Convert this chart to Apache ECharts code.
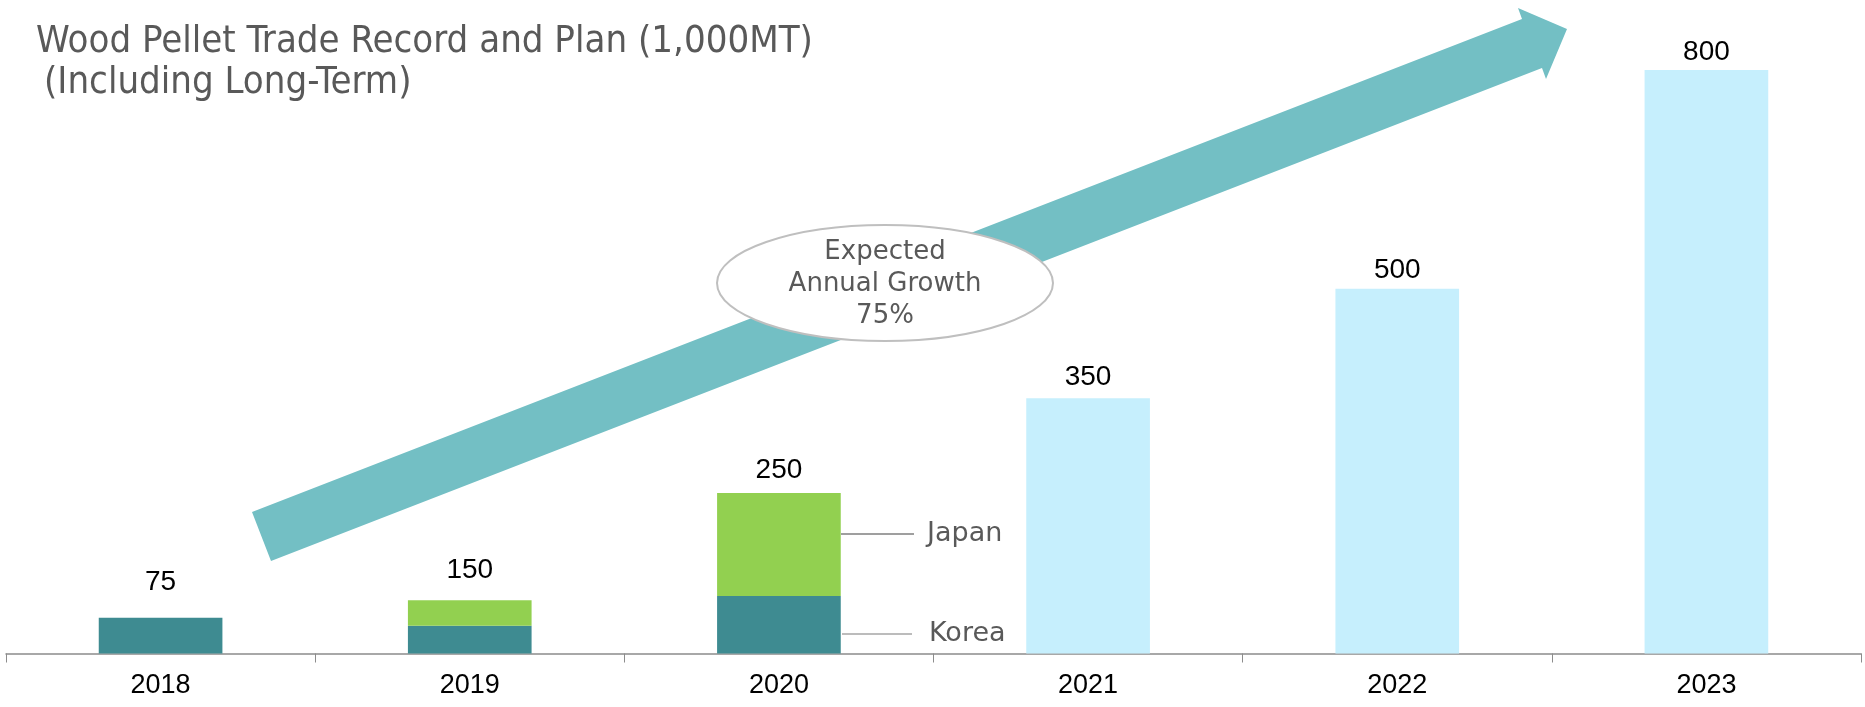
<!DOCTYPE html>
<html>
<head>
<meta charset="utf-8">
<script src="https://cdn.jsdelivr.net/npm/echarts@6/dist/echarts.min.js"></script>
<style>
  html, body { margin: 0; padding: 0; background: #fff; }
  #main { width: 1865px; height: 707px; }
</style>
</head>
<body>
<div id="main"></div>
<script>
// years on the x axis
const years = ['2018', '2019', '2020', '2021', '2022', '2023'];
// drawn bar heights (1,000MT) as they appear in the picture
const korea = [49, 38, 79, '-', '-', '-'];
const japan = ['-', 35, 141, '-', '-', '-'];
const plan = ['-', '-', '-', 350, 500, 800];
// printed totals above each bar
const totals = [75, 150, 250, 350, 500, 800];

const chart = echarts.init(document.getElementById('main'), null, { renderer: 'canvas' });

const grey = '#595959';
// the first labels sit a bit higher above their bars in the original
const labelGap = [21, 16, 9, 7, 5, 4];

const option = {
    backgroundColor: '#fff',
    animation: false,
    grid: { left: 6, right: 4, top: 70, bottom: 53.5 },
    xAxis: {
        type: 'category',
        data: years,
        axisLine: { show: true, lineStyle: { color: '#8c8c8c', width: 1.5 } },
        axisTick: { show: true, length: 9, lineStyle: { color: '#8c8c8c', width: 1 } },
        axisLabel: {
            margin: 19,
            color: '#000',
            fontSize: 27,
            fontFamily: 'Liberation Sans, Arial, sans-serif'
        }
    },
    yAxis: {
        type: 'value',
        min: 0,
        max: 800,
        show: false,
        splitLine: { show: false }
    },
    series: [
        {
            name: 'Korea', type: 'bar', stack: 'all', barWidth: '40%',
            data: korea, itemStyle: { color: '#3e8b91' }
        },
        {
            name: 'Japan', type: 'bar', stack: 'all',
            data: japan, itemStyle: { color: '#92d050' }
        },
        {
            name: 'Plan', type: 'bar', stack: 'all',
            data: plan, itemStyle: { color: '#c6effd' }
        },
        {
            // zero-height cap that carries the total label
            name: 'Total', type: 'bar', stack: 'all',
            data: totals.map((t, i) => ({ value: 0, label: { distance: labelGap[i] } })),
            itemStyle: { color: 'transparent' },
            label: {
                show: true,
                position: 'top',
                color: '#000',
                fontSize: 28,
                fontFamily: 'Liberation Sans, Arial, sans-serif',
                formatter: p => totals[p.dataIndex]
            }
        }
    ],
    graphic: [
        // title
        {
            type: 'text', left: 36, top: 23,
            style: {
                text: 'Wood Pellet Trade Record and Plan (1,000MT)',
                fill: grey, font: '38px "DejaVu Sans Condensed", "DejaVu Sans", sans-serif'
            }
        },
        {
            type: 'text', left: 44, top: 64,
            style: {
                text: '(Including Long-Term)',
                fill: grey, font: '38px "DejaVu Sans Condensed", "DejaVu Sans", sans-serif'
            }
        },
        // growth arrow
        {
            type: 'polygon', z: 1,
            shape: {
                points: [[252, 512], [1522, 19], [1518, 8], [1567, 29], [1546, 79], [1542, 68], [271, 561]]
            },
            style: { fill: '#73bfc4' }
        },
        // ellipse callout
        {
            type: 'ellipse', z: 2,
            shape: { cx: 885, cy: 283, rx: 168, ry: 58 },
            style: { fill: '#fff', stroke: '#bfbfbf', lineWidth: 2 }
        },
        {
            type: 'text', z: 3, x: 885, y: 284,
            style: {
                text: 'Expected\nAnnual Growth\n75%',
                align: 'center', verticalAlign: 'middle',
                lineHeight: 32,
                fill: grey, font: '26px "DejaVu Sans", sans-serif'
            }
        },
        // leader lines for 2020 bar
        {
            type: 'line', z: 3,
            shape: { x1: 841, y1: 534, x2: 914, y2: 534 },
            style: { stroke: '#7f7f7f', lineWidth: 1.5 }
        },
        {
            type: 'text', z: 3, x: 927, y: 534,
            style: {
                text: 'Japan', verticalAlign: 'middle',
                fill: grey, font: '27px "DejaVu Sans", sans-serif'
            }
        },
        {
            type: 'line', z: 3,
            shape: { x1: 842, y1: 634, x2: 912, y2: 634 },
            style: { stroke: '#a6a6a6', lineWidth: 1.5 }
        },
        {
            type: 'text', z: 3, x: 929, y: 634,
            style: {
                text: 'Korea', verticalAlign: 'middle',
                fill: grey, font: '27px "DejaVu Sans", sans-serif'
            }
        }
    ]
};

chart.setOption(option);
window.addEventListener('resize', () => chart.resize());
</script>
</body>
</html>
